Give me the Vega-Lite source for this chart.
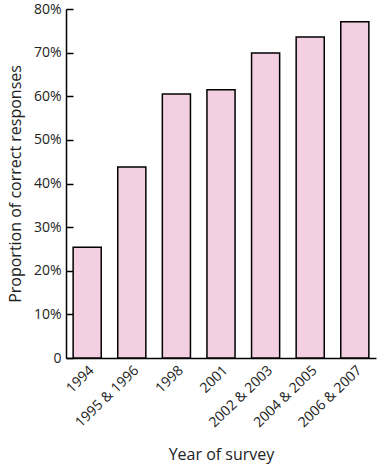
{
  "$schema": "https://vega.github.io/schema/vega-lite/v6.json",
  "autosize": "none",
  "padding": {"left": 66, "top": 9, "right": 4, "bottom": 108},
  "width": 310,
  "height": 349,
  "background": "white",
  "data": {"values": [
    {"year": "1994", "pct": 25.4},
    {"year": "1995 & 1996", "pct": 43.8},
    {"year": "1998", "pct": 60.5},
    {"year": "2001", "pct": 61.5},
    {"year": "2002 & 2003", "pct": 69.9},
    {"year": "2004 & 2005", "pct": 73.6},
    {"year": "2006 & 2007", "pct": 77.1}
  ]},
  "config": {
    "view": {"stroke": null},
    "font": "Open Sans",
    "axis": {"grid": false, "domainColor": "black", "domainWidth": 1.5, "tickColor": "black", "tickWidth": 1.5, "labelColor": "#222", "titleColor": "#222", "labelFont": "Open Sans", "titleFont": "Open Sans", "titleFontWeight": "normal", "labelFontSize": 14, "titleFontSize": 16}
  },
  "encoding": {
    "x": {
      "field": "year", "type": "nominal", "sort": null,
      "scale": {"paddingInner": 0.37, "paddingOuter": 0.16},
      "axis": {"title": "Year of survey", "labelAngle": -44, "ticks": false, "labelPadding": 5, "titlePadding": 17}
    }
  },
  "layer": [
    {
      "mark": {"type": "bar", "fill": "#f4cfe1", "stroke": "black", "strokeWidth": 1.5},
      "encoding": {
        "y": {
          "field": "pct", "type": "quantitative",
          "scale": {"domain": [0, 80], "nice": false},
          "axis": {"title": "Proportion of correct responses", "values": [0, 10, 20, 30, 40, 50, 60, 70, 80], "labelExpr": "datum.value == 0 ? '0' : datum.value + '%'", "ticks": false, "labelPadding": 5, "titlePadding": 10}
        }
      }
    },
    {
      "mark": {"type": "bar", "opacity": 0},
      "encoding": {
        "y": {
          "field": "pct", "type": "quantitative",
          "scale": {"domain": [0, 80], "nice": false},
          "axis": {"orient": "right", "offset": -310, "title": null, "labels": false, "domain": false, "values": [0, 10, 20, 30, 40, 50, 60, 70, 80], "tickSize": 7}
        }
      }
    }
  ],
  "resolve": {"axis": {"y": "independent"}}
}
